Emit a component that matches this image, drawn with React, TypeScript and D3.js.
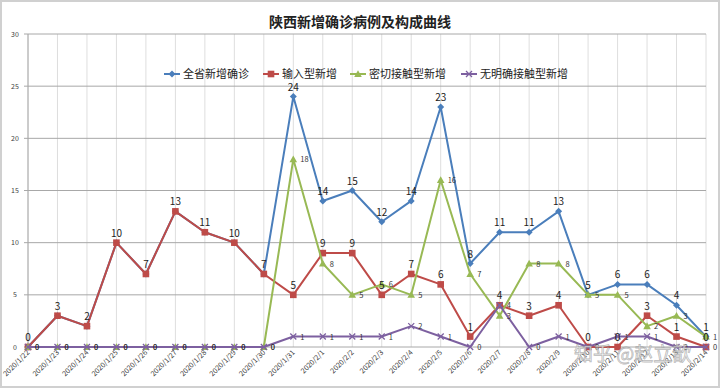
import React from "react";
import * as d3 from "d3";

const dates = [
  "2020/1/22", "2020/1/23", "2020/1/24", "2020/1/25", "2020/1/26", "2020/1/27",
  "2020/1/28", "2020/1/29", "2020/1/30", "2020/1/31", "2020/2/1", "2020/2/2",
  "2020/2/3", "2020/2/4", "2020/2/5", "2020/2/6", "2020/2/7", "2020/2/8",
  "2020/2/9", "2020/2/10", "2020/2/11", "2020/2/12", "2020/2/13", "2020/2/14",
];
const totalNew = [0, 3, 2, 10, 7, 13, 11, 10, 7, 24, 14, 15, 12, 14, 23, 8, 11, 11, 13, 5, 6, 6, 4, 1];
const imported = [0, 3, 2, 10, 7, 13, 11, 10, 7, 5, 9, 9, 5, 7, 6, 1, 4, 3, 4, 0, 0, 3, 1, 0];
const closeContact = [0, 0, 0, 0, 0, 0, 0, 0, 0, 18, 8, 5, 6, 5, 16, 7, 3, 8, 8, 5, 5, 2, 3, 1];
const unknownContact = [0, 0, 0, 0, 0, 0, 0, 0, 0, 1, 1, 1, 1, 2, 1, 0, 4, 0, 1, 0, 1, 1, 0, 0];
const yTicks = [0, 5, 10, 15, 20, 25, 30];
const seriesNames = ["全省新增确诊", "输入型新增", "密切接触型新增", "无明确接触型新增"];
const title = "陕西新增确诊病例及构成曲线";

const W = 720;
const H = 388;
const colors = ["#4A7EBB", "#BE4B48", "#98B954", "#7D60A0"];
const FONT = "'Noto Sans CJK SC', 'Noto Sans', sans-serif";

type Sym = "diamond" | "square" | "triangle" | "cross";

function Marker({ x, y, sym, color }: { x: number; y: number; sym: Sym; color: string }) {
  if (sym === "diamond") {
    const r = 3.5;
    return <path d={`M${x},${y - r}L${x + r},${y}L${x},${y + r}L${x - r},${y}Z`} fill={color} />;
  }
  if (sym === "square") {
    const r = 3.3;
    return <rect x={x - r} y={y - r} width={2 * r} height={2 * r} fill={color} />;
  }
  if (sym === "triangle") {
    const r = 3.8;
    return <path d={`M${x},${y - r}L${x + r},${y + r * 0.8}L${x - r},${y + r * 0.8}Z`} fill={color} />;
  }
  const r = 3;
  return (
    <path
      d={`M${x - r},${y - r}L${x + r},${y + r}M${x - r},${y + r}L${x + r},${y - r}`}
      stroke={color}
      strokeWidth={1.3}
      fill="none"
    />
  );
}

export default function App() {
  const x = d3.scalePoint<string>().domain(dates).range([28, 706]);
  const y = d3.scaleLinear().domain([0, 30]).range([347, 34]);
  const line = d3
    .line<number>()
    .x((_, i) => x(dates[i]) as number)
    .y((d) => y(d));

  const series: { values: number[]; sym: Sym; labelPos: "top" | "right" }[] = [
    { values: totalNew, sym: "diamond", labelPos: "top" },
    { values: imported, sym: "square", labelPos: "top" },
    { values: closeContact, sym: "triangle", labelPos: "right" },
    { values: unknownContact, sym: "cross", labelPos: "right" },
  ];

  const legendX = [164, 263, 350, 461];
  const legendY = 74;

  return (
    <svg
      width={W}
      height={H}
      style={{ position: "absolute", left: 0, top: 0, background: "#fff" }}
      fontFamily={FONT}
    >
      <rect x={0.5} y={0.5} width={W - 1} height={H - 1} fill="#fff" stroke="#d0d0d0" strokeWidth={3} />

      {/* vertical grid */}
      {dates.map((d) => (
        <line key={"v" + d} x1={x(d)} x2={x(d)} y1={y(30)} y2={y(0)} stroke="#dedede" strokeWidth={1} />
      ))}
      {/* horizontal grid */}
      {yTicks.map((t) => (
        <g key={"h" + t}>
          <line x1={24} x2={706} y1={y(t)} y2={y(t)} stroke="#a8a8a8" strokeWidth={1} />
          <text x={15} y={y(t) + 2.5} fontSize={7} fill="#404040" textAnchor="middle">
            {t}
          </text>
        </g>
      ))}
      <line x1={28} x2={28} y1={y(30)} y2={y(0)} stroke="#a8a8a8" />

      {/* x labels */}
      {dates.map((d) => (
        <text
          key={"xl" + d}
          transform={`translate(${(x(d) as number) + 2},${353}) rotate(-45)`}
          fontSize={7.2}
          fill="#404040"
          textAnchor="end"
        >
          {d}
        </text>
      ))}

      {/* title */}
      <text x={360} y={27} fontSize={14} fontWeight={700} fill="#222" textAnchor="middle">
        {title}
      </text>

      {/* legend */}
      {seriesNames.map((n, i) => (
        <g key={"lg" + n}>
          <line x1={legendX[i]} x2={legendX[i] + 16} y1={legendY} y2={legendY} stroke={colors[i]} strokeWidth={2} />
          <Marker x={legendX[i] + 8} y={legendY} sym={series[i].sym} color={colors[i]} />
          <text x={legendX[i] + 19} y={legendY + 4} fontSize={11} fill="#222">
            {n}
          </text>
        </g>
      ))}

      {/* series */}
      {series.map((s, si) => (
        <g key={"s" + si}>
          <path d={line(s.values) || ""} fill="none" stroke={colors[si]} strokeWidth={2} strokeLinejoin="round" />
          {s.values.map((v, i) => (
            <Marker key={i} x={x(dates[i]) as number} y={y(v)} sym={s.sym} color={colors[si]} />
          ))}
        </g>
      ))}

      {/* labels */}
      {series.map((s, si) =>
        s.values.map((v, i) => {
          const px = x(dates[i]) as number;
          const py = y(v);
          if (s.labelPos === "top") {
            if (si === 1 && v === totalNew[i]) return null;
            return (
              <text key={`l${si}-${i}`} x={px} y={py - 6} fontSize={10} fill="#222" textAnchor="middle">
                {v}
              </text>
            );
          }
          return (
            <text key={`l${si}-${i}`} x={px + 7} y={py + 3} fontSize={7.5} fill="#333">
              {v}
            </text>
          );
        })
      )}

      {/* watermark */}
      <text
        x={574}
        y={361}
        fontSize={19}
        fill="#ffffff"
        fillOpacity={0.75}
        stroke="#888"
        strokeOpacity={0.6}
        strokeWidth={0.8}
        fontFamily="'Noto Sans CJK SC', sans-serif"
      >
        知乎 @赵立歆
      </text>
    </svg>
  );
}
